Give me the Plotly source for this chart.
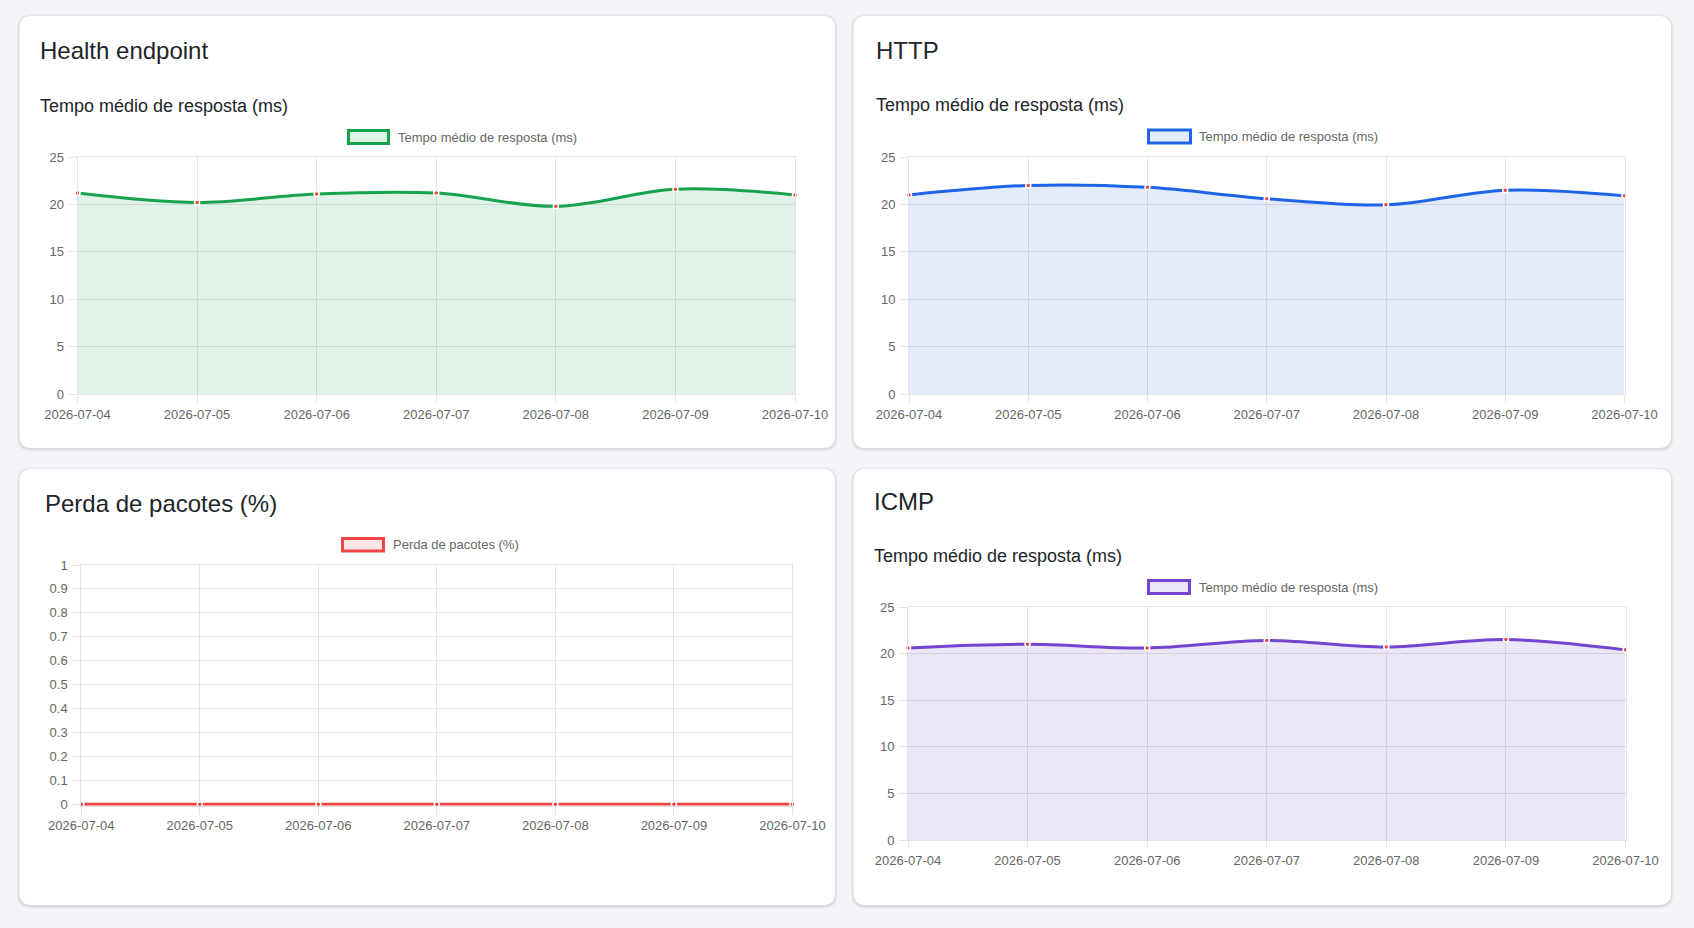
import plotly.graph_objects as go

W, H = 1694, 928

# ---------------- data ----------------
dates = ["2026-07-04", "2026-07-05", "2026-07-06", "2026-07-07",
         "2026-07-08", "2026-07-09", "2026-07-10"]
health_ms = [21.2, 20.2, 21.1, 21.2, 19.8, 21.6, 21.0]
http_ms = [21.0, 22.0, 21.8, 20.6, 19.95, 21.5, 20.9]
loss_pct = [0, 0, 0, 0, 0, 0, 0]
icmp_ms = [20.6, 21.0, 20.6, 21.4, 20.7, 21.5, 20.4]

ms_ticks = [0, 5, 10, 15, 20, 25]
loss_ticks = [0, 0.1, 0.2, 0.3, 0.4, 0.5, 0.6, 0.7, 0.8, 0.9, 1]

series_ms = "Tempo médio de resposta (ms)"
series_loss = "Perda de pacotes (%)"

# ---------------- layout helpers ----------------
def X(px):
    return px / W

def Y(py):
    return 1 - py / H

def rrect(x0, y0, x1, y1, r):
    return (f"M {X(x0 + r)},{Y(y0)} L {X(x1 - r)},{Y(y0)} "
            f"Q {X(x1)},{Y(y0)} {X(x1)},{Y(y0 + r)} "
            f"L {X(x1)},{Y(y1 - r)} Q {X(x1)},{Y(y1)} {X(x1 - r)},{Y(y1)} "
            f"L {X(x0 + r)},{Y(y1)} Q {X(x0)},{Y(y1)} {X(x0)},{Y(y1 - r)} "
            f"L {X(x0)},{Y(y0 + r)} Q {X(x0)},{Y(y0)} {X(x0 + r)},{Y(y0)} Z")

panels = [
    dict(card=(19.5, 16, 835, 448), plot=(77.5, 157, 795, 394),
         title="Health endpoint", title_xy=(38, 51),
         subtitle=series_ms, sub_xy=(38, 106),
         legend_box=(348.5, 130.5, 388.5, 143.5), legend_txt=(396, 137.5),
         name=series_ms, values=health_ms, ticks=ms_ticks, yrange=[0, 25],
         line="#17a24d", fill="rgba(22,163,74,0.13)"),
    dict(card=(853.5, 16, 1671, 448), plot=(909, 157, 1624.5, 394),
         title="HTTP", title_xy=(874, 51),
         subtitle=series_ms, sub_xy=(874, 105),
         legend_box=(1148.5, 130, 1190.5, 143), legend_txt=(1197, 136.5),
         name=series_ms, values=http_ms, ticks=ms_ticks, yrange=[0, 25],
         line="#1f64e6", fill="rgba(37,99,235,0.13)"),
    dict(card=(19.5, 469, 835, 905), plot=(81.3, 565, 792.4, 805.7),
         title="Perda de pacotes (%)", title_xy=(43, 503.5),
         subtitle=None, sub_xy=None,
         legend_box=(342.5, 538.5, 383.5, 551), legend_txt=(391, 544.5),
         name=series_loss, values=loss_pct, ticks=loss_ticks, yrange=[-0.006, 1],
         line="#ef4444", fill="rgba(239,68,68,0.13)"),
    dict(card=(853.5, 469, 1671, 905), plot=(908, 607, 1625.5, 840),
         title="ICMP", title_xy=(872, 501.5),
         subtitle=series_ms, sub_xy=(872, 556),
         legend_box=(1148.5, 580.5, 1189.5, 593.5), legend_txt=(1197, 587.5),
         name=series_ms, values=icmp_ms, ticks=ms_ticks, yrange=[0, 25],
         line="#7145d0", fill="rgba(111,66,193,0.13)"),
]

fig = go.Figure()
shapes = []
annotations = []

TICKFONT = dict(family="Liberation Sans, Arial, sans-serif", size=13, color="#666666")
GRID = "#e4e4e4"

for i, p in enumerate(panels):
    n = "" if i == 0 else str(i + 1)
    cx0, cy0, cx1, cy1 = p["card"]
    # soft shadow
    for k, a in [(3, 0.025), (2, 0.035), (1, 0.05)]:
        shapes.append(dict(type="path", path=rrect(cx0 - k, cy0 - k + 1, cx1 + k, cy1 + k + 1, 12 + k),
                           xref="paper", yref="paper", fillcolor=f"rgba(0,0,0,{a})",
                           line=dict(width=0), layer="below"))
    shapes.append(dict(type="path", path=rrect(cx0, cy0, cx1, cy1, 12),
                       xref="paper", yref="paper", fillcolor="#ffffff",
                       line=dict(width=0), layer="below"))

    px0, py0, px1, py1 = p["plot"]
    fill_mode = "tozeroy" if p["values"] is not loss_pct else "none"
    fig.add_trace(go.Scatter(
        x=dates, y=p["values"], xaxis="x" + n, yaxis="y" + n,
        mode="lines+markers", name=p["name"], showlegend=False,
        line=dict(color=p["line"], width=3, shape="spline", smoothing=1.0),
        fill=fill_mode, fillcolor=p["fill"],
        marker=dict(size=5, color="#ef4444", line=dict(color="#ffffff", width=1.5)),
        cliponaxis=False, hoverinfo="x+y",
    ))

    fig.layout["xaxis" + n] = dict(
        domain=[X(px0), X(px1)], anchor="y" + n, type="category",
        range=[0, len(dates) - 1], showgrid=True, gridcolor=GRID, gridwidth=1,
        showline=True, linecolor=GRID, linewidth=1, mirror=True,
        ticks="outside", ticklen=8, tickcolor=GRID, tickwidth=1,
        tickfont=TICKFONT, ticklabelstandoff=0, zeroline=False, fixedrange=True,
        automargin=False,
    )
    fig.layout["yaxis" + n] = dict(
        domain=[Y(py1), Y(py0)], anchor="x" + n, range=p["yrange"],
        tickvals=p["ticks"], ticktext=[f"{t:g}" for t in p["ticks"]],
        showgrid=True, gridcolor=GRID, gridwidth=1,
        showline=True, linecolor=GRID, linewidth=1, mirror=True,
        ticks="outside", ticklen=8, tickcolor=GRID, tickwidth=1,
        tickfont=TICKFONT, ticklabelstandoff=2, zeroline=False, fixedrange=True,
        automargin=False,
    )

    # card title
    tx, ty = p["title_xy"]
    annotations.append(dict(text=p["title"], x=X(tx), y=Y(ty), xref="paper", yref="paper",
                            xanchor="left", yanchor="middle", showarrow=False,
                            font=dict(family="Liberation Sans, Arial, sans-serif", size=24, color="#212529")))
    if p["subtitle"]:
        sx, sy = p["sub_xy"]
        annotations.append(dict(text=p["subtitle"], x=X(sx), y=Y(sy), xref="paper", yref="paper",
                                xanchor="left", yanchor="middle", showarrow=False,
                                font=dict(family="Liberation Sans, Arial, sans-serif", size=18, color="#212529")))
    # chart legend
    lx0, ly0, lx1, ly1 = p["legend_box"]
    shapes.append(dict(type="rect", xref="paper", yref="paper",
                       x0=X(lx0), x1=X(lx1), y0=Y(ly1), y1=Y(ly0),
                       fillcolor=p["fill"], line=dict(color=p["line"], width=3), layer="above"))
    ltx, lty = p["legend_txt"]
    annotations.append(dict(text=p["name"], x=X(ltx), y=Y(lty), xref="paper", yref="paper",
                            xanchor="left", yanchor="middle", showarrow=False,
                            font=dict(family="Liberation Sans, Arial, sans-serif", size=13, color="#666666")))

fig.update_layout(
    width=W, height=H, margin=dict(l=0, r=0, t=0, b=0, autoexpand=False),
    paper_bgcolor="#f3f5f8", plot_bgcolor="rgba(0,0,0,0)",
    shapes=shapes, annotations=annotations, showlegend=False,
)

fig.write_html("out.html", config={"displayModeBar": False})
